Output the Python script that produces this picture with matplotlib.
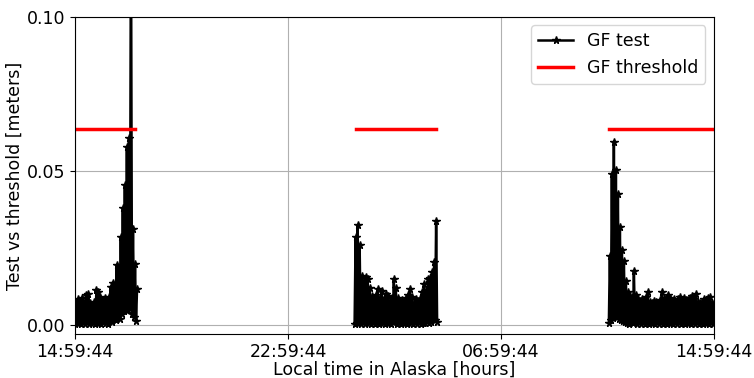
import matplotlib
matplotlib.use("Agg")
import matplotlib.pyplot as plt
import matplotlib.dates as mdates
import numpy as np
import pandas as pd

plt.rcParams['font.size'] = 12.5

t0 = pd.Timestamp("2020-01-01 14:59:44")

# GF test values [mm], three tracking windows (hours after t0)
win1 = (0.00, 2.33)
gf1 = [0.4, 7.3, 1.1, 8.4, 0.6, 7.8, 0.2, 8.9, 1.3, 7.1,
       0.5, 9.8, 0.9, 10.2, 0.3, 7.0, 1.2, 6.6, 0.7, 7.4,
       0.4, 11.3, 1.0, 10.6, 0.6, 9.2, 0.2, 8.1, 1.4, 8.7,
       0.8, 7.6, 0.5, 9.0, 1.6, 12.4, 0.9, 13.8, 2.1, 12.9,
       1.7, 19.5, 2.8, 18.2, 1.9, 28.4, 3.6, 37.9, 4.4, 45.3,
       5.2, 57.8, 4.9, 60.6, 6.3, 135.0, 3.7, 31.2, 2.6, 19.7,
       1.3, 11.8]

win2 = (10.50, 13.60)
gf2 = [0.3, 28.5, 0.8, 32.4, 1.1, 26.0, 0.5, 15.8, 0.9, 14.2,
       0.4, 15.5, 1.2, 14.9, 0.6, 12.1, 0.3, 9.3, 1.0, 8.6,
       0.5, 9.8, 0.8, 11.6, 0.2, 8.9, 1.3, 11.0, 0.7, 8.4,
       0.4, 10.2, 1.1, 9.5, 0.6, 7.8, 0.3, 8.9, 0.9, 14.8,
       1.4, 11.9, 0.5, 8.7, 0.8, 7.6, 0.2, 8.1, 1.0, 7.3,
       0.6, 8.8, 0.4, 9.9, 1.2, 11.7, 0.7, 9.1, 0.3, 7.2,
       0.9, 8.6, 0.5, 7.9, 1.1, 8.3, 0.4, 10.8, 0.8, 13.4,
       0.6, 11.2, 1.3, 14.9, 0.7, 15.3, 1.0, 17.2, 2.3, 20.6,
       1.5, 33.6, 0.9]

win3 = (20.05, 24.00)
gf3 = [0.8, 22.4, 1.5, 48.9, 2.4, 59.5, 3.1, 50.2, 2.7, 42.6,
       2.1, 31.8, 1.6, 24.5, 1.3, 20.7, 1.0, 14.3, 0.8, 10.6,
       0.5, 9.3, 1.1, 8.2, 0.6, 17.5, 0.9, 9.8, 0.4, 8.6,
       1.2, 7.9, 0.3, 8.4, 1.0, 7.7, 0.3, 9.1, 0.8, 10.7,
       0.4, 7.6, 1.1, 7.2, 0.6, 7.9, 0.2, 7.4, 0.9, 7.1,
       0.5, 8.0, 1.2, 10.6, 0.4, 8.3, 0.8, 8.9, 0.3, 9.6,
       1.0, 8.7, 0.6, 7.9, 0.2, 8.5, 0.9, 7.2, 0.5, 8.4,
       1.1, 9.0, 0.4, 7.6, 0.7, 8.9, 0.3, 8.2, 1.0, 8.1,
       0.6, 8.7, 0.2, 9.3, 0.9, 8.4, 0.5, 10.1, 1.2, 7.4,
       0.4, 7.0, 0.8, 7.5, 0.3, 8.6, 1.0, 8.1, 0.6, 8.8,
       0.2, 9.0, 0.9, 7.3, 0.5, 6.8]

# threshold windows (hours after t0) and level [m]
thr_windows = [(0.00, 2.25), (10.55, 13.56), (20.05, 24.00)]
thr_level = 0.0635

fig = plt.figure(figsize=(7.54, 3.78), dpi=100)
ax = fig.add_axes([0.0995, 0.1156, 0.8475, 0.8402])

times, vals = [], []
for (h0, h1), gf in [(win1, gf1), (win2, gf2), (win3, gf3)]:
    tt = pd.date_range(t0 + pd.Timedelta(hours=h0), t0 + pd.Timedelta(hours=h1), periods=len(gf))
    times.extend(list(tt) + [tt[-1] + pd.Timedelta(minutes=1)])
    vals.extend(list(np.array(gf) / 1000.0) + [np.nan])

ax.plot(times, vals, '-*', color='k', linewidth=1.8, markersize=5.5, label='GF test')

for i, (h0, h1) in enumerate(thr_windows):
    ax.plot([t0 + pd.Timedelta(hours=h0), t0 + pd.Timedelta(hours=h1)],
            [thr_level, thr_level], color='red', linewidth=2.5,
            label='GF threshold' if i == 0 else None)

ax.set_xlim(t0, t0 + pd.Timedelta(hours=24))
ax.set_ylim(-0.003, 0.10)
ax.set_xticks([t0 + pd.Timedelta(hours=h) for h in (0, 8, 16, 24)])
ax.xaxis.set_major_formatter(mdates.DateFormatter('%H:%M:%S'))
ax.tick_params(axis='x', pad=2.5)
ax.set_yticks([0.0, 0.05, 0.10])
ax.yaxis.set_major_formatter(plt.FormatStrFormatter('%.2f'))
ax.grid(True, color='#b0b0b0', linewidth=0.8)
ax.set_xlabel('Local time in Alaska [hours]', labelpad=0)
ax.set_ylabel('Test vs threshold [meters]', labelpad=2)
ax.legend(loc='upper right')

fig.savefig('out.png', dpi=100)
